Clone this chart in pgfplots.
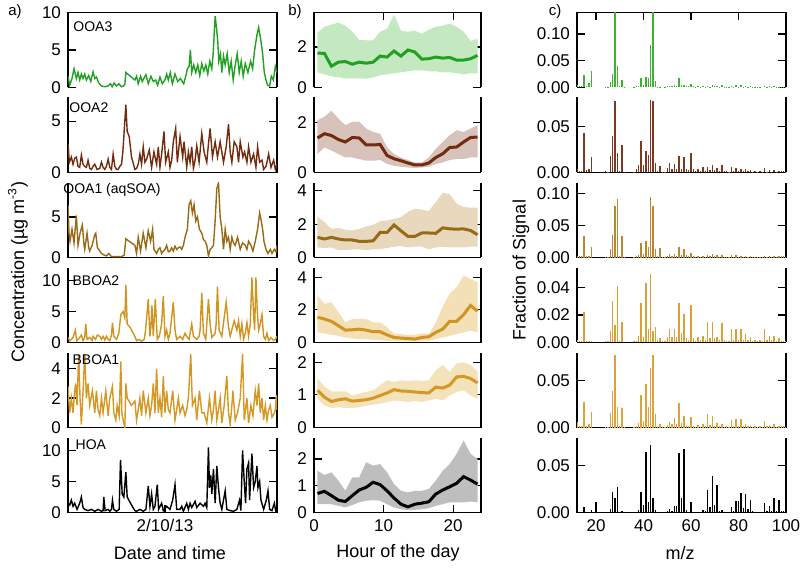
\documentclass[border=0pt]{standalone}
\usepackage{fontspec}
\setmainfont{Liberation Sans}
\usepackage{pgfplots}
\usepackage{pgfplotstable}
\pgfplotsset{compat=1.18}

\definecolor{cOOA3}{RGB}{34,160,34}
\definecolor{fOOA3}{RGB}{196,232,192}
\definecolor{cOOA2}{RGB}{112,44,12}
\definecolor{fOOA2}{RGB}{216,194,188}
\definecolor{cOOA1}{RGB}{152,106,22}
\definecolor{fOOA1}{RGB}{232,216,190}
\definecolor{cBB2}{RGB}{208,148,32}
\definecolor{fBB2}{RGB}{244,224,182}
\definecolor{cBB1}{RGB}{212,152,36}
\definecolor{fBB1}{RGB}{244,226,186}
\definecolor{fHOA}{RGB}{190,190,190}
\definecolor{sOOA3}{RGB}{60,180,50}
\definecolor{sOOA2}{RGB}{122,58,32}
\definecolor{sOOA1}{RGB}{184,136,48}
\definecolor{sBB2}{RGB}{218,162,52}
\definecolor{sBB1}{RGB}{220,164,56}

\tikzset{nm/.style={anchor=north west, inner sep=0pt, font=\fontsize{7}{8}\selectfont}}

\pgfplotsset{
  pan/.style={scale only axis, height=37.5pt, anchor=north west,
    axis y line*=box, ytick pos=both, yticklabel pos=left,
    tick align=inside, major tick length=4pt,
    axis line style={line width=0.6pt,-},
    every tick/.style={black,line width=0.6pt},
    tick label style={font=\fontsize{8.5}{10}\selectfont},
    /pgf/number format/assume math mode=true},
  ca/.style={pan, width=104.5pt, xmin=0, xmax=625, clip mode=individual},
  cb/.style={pan, width=83.5pt, xmin=0, xmax=24},
  cc/.style={pan, width=104.5pt, xmin=12, xmax=100, scaled y ticks=false,
    yticklabel style={/pgf/number format/fixed, /pgf/number format/fixed zerofill, /pgf/number format/precision=2}},
  rtop/.style={axis x line*=top, xtick pos=right, xticklabels={}},
  rmid/.style={axis x line*=none, xtick=\empty},
  rbot/.style={axis x line*=bottom, xtick pos=left},
}

% diurnal profiles: hour, median, lower, upper
\pgfplotstableread{
h med lo hi
0.5 1.70 0.75 2.70
1.5 1.68 0.65 3.00
2.5 1.05 0.55 3.10
3.5 1.25 0.50 3.20
4.5 1.28 0.45 3.05
5.5 1.15 0.45 2.75
6.5 1.25 0.45 2.35
7.5 1.20 0.43 2.33
8.5 1.25 0.50 2.33
9.5 1.55 0.60 2.75
10.5 1.50 0.65 2.90
11.5 1.80 0.70 3.60
12.5 1.55 0.75 2.80
13.5 1.85 0.80 2.75
14.5 1.75 0.85 2.80
15.5 1.40 0.85 2.65
16.5 1.42 0.80 2.85
17.5 1.50 0.80 3.00
18.5 1.45 0.75 3.05
19.5 1.48 0.75 3.15
20.5 1.35 0.70 3.00
21.5 1.35 0.65 2.75
22.5 1.42 0.70 2.30
23.5 1.58 0.70 2.40
}\dOOAiii
\pgfplotstableread{
h med lo hi
0.5 1.38 0.74 2.09
1.5 1.55 1.00 2.23
2.5 1.48 0.88 2.47
3.5 1.32 0.74 2.16
4.5 1.22 0.60 1.89
5.5 1.40 0.60 2.03
6.5 1.38 0.54 2.03
7.5 1.10 0.47 1.76
8.5 1.10 0.47 1.62
9.5 1.12 0.50 1.55
10.5 0.68 0.34 1.01
11.5 0.55 0.27 0.74
12.5 0.47 0.23 0.60
13.5 0.38 0.20 0.50
14.5 0.30 0.18 0.40
15.5 0.30 0.20 0.40
16.5 0.38 0.23 0.60
17.5 0.60 0.34 0.95
18.5 0.75 0.40 1.22
19.5 1.00 0.50 1.49
20.5 1.02 0.54 1.69
21.5 1.22 0.54 1.62
22.5 1.40 0.60 1.76
23.5 1.42 0.60 1.89
}\dOOAii
\pgfplotstableread{
h med lo hi
0.5 1.21 0.60 2.46
1.5 1.11 0.57 2.12
2.5 1.21 0.60 1.72
3.5 1.11 0.44 1.78
4.5 1.05 0.44 1.66
5.5 1.05 0.48 1.62
6.5 0.97 0.48 1.72
7.5 0.97 0.44 1.86
8.5 1.00 0.48 1.96
9.5 1.50 0.50 2.18
10.5 1.50 0.57 2.22
11.5 1.95 0.65 2.32
12.5 1.60 0.69 2.42
13.5 1.27 0.60 2.73
14.5 1.27 0.65 2.93
15.5 1.47 0.65 2.87
16.5 1.47 0.50 2.79
17.5 1.45 0.60 3.33
18.5 1.78 0.65 3.88
19.5 1.72 0.60 3.80
20.5 1.70 0.60 3.23
21.5 1.72 0.60 3.03
22.5 1.62 0.65 2.99
23.5 1.37 0.65 2.99
}\dOOAi
\pgfplotstableread{
h med lo hi
0.5 1.55 0.62 2.89
1.5 1.44 0.56 2.37
2.5 1.30 0.47 2.47
3.5 1.03 0.41 1.86
4.5 0.76 0.31 1.24
5.5 0.78 0.25 1.44
6.5 0.82 0.21 1.44
7.5 0.76 0.21 1.44
8.5 0.66 0.16 1.24
9.5 0.66 0.14 1.24
10.5 0.47 0.10 0.93
11.5 0.31 0.10 0.56
12.5 0.27 0.10 0.52
13.5 0.25 0.08 0.47
14.5 0.21 0.06 0.47
15.5 0.31 0.10 0.56
16.5 0.35 0.10 0.52
17.5 0.62 0.21 1.24
18.5 0.82 0.31 2.20
19.5 1.30 0.41 3.00
20.5 1.30 0.52 3.40
21.5 1.71 0.62 4.10
22.5 2.27 0.72 3.90
23.5 1.92 0.62 3.70
}\dBBii
\pgfplotstableread{
h med lo hi
0.5 1.14 0.88 1.50
1.5 0.93 0.67 1.26
2.5 0.80 0.60 1.11
3.5 0.85 0.62 1.11
4.5 0.88 0.60 1.11
5.5 0.81 0.60 0.98
6.5 0.83 0.62 1.04
7.5 0.85 0.67 1.09
8.5 0.90 0.70 1.14
9.5 0.98 0.73 1.30
10.5 1.06 0.78 1.45
11.5 1.16 0.83 1.40
12.5 1.12 0.81 1.45
13.5 1.11 0.78 1.43
14.5 1.09 0.81 1.45
15.5 1.07 0.78 1.43
16.5 1.06 0.83 1.45
17.5 1.24 0.88 1.76
18.5 1.21 0.83 1.92
19.5 1.30 0.98 1.71
20.5 1.55 1.09 1.97
21.5 1.57 1.14 1.99
22.5 1.50 0.98 1.92
23.5 1.37 0.88 1.71
}\dBBi
\pgfplotstableread{
h med lo hi
0.5 0.71 0.31 1.56
1.5 0.79 0.31 1.40
2.5 0.63 0.31 1.50
3.5 0.46 0.25 1.19
4.5 0.41 0.19 0.81
5.5 0.63 0.28 1.31
6.5 0.84 0.38 1.31
7.5 0.94 0.44 1.88
8.5 1.13 0.46 1.75
9.5 1.04 0.44 1.81
10.5 0.81 0.31 1.50
11.5 0.54 0.19 1.06
12.5 0.31 0.12 0.81
13.5 0.21 0.09 0.75
14.5 0.31 0.10 0.81
15.5 0.35 0.12 0.81
16.5 0.40 0.16 0.88
17.5 0.69 0.25 1.19
18.5 0.84 0.31 1.56
19.5 0.96 0.38 1.81
20.5 1.09 0.38 2.19
21.5 1.34 0.38 2.69
22.5 1.21 0.41 2.19
23.5 1.06 0.38 2.00
}\dHOA

% mass spectra (fraction of signal)
\pgfplotstableread{
mz ooa3 ooa2 ooa1 bb2 bb1 hoa
12 0.005 0.004 0.003 0.002 0.006 0.001
13 0.002 0.002 0.002 0.001 0.002 0.001
14 0.002 0.002 0.002 0.001 0.002 0.001
15 0.023 0.043 0.034 0.022 0.027 0.006
16 0.003 0.003 0.002 0.001 0.002 0.000
17 0.008 0.004 0.003 0.001 0.004 0.001
18 0.031 0.017 0.017 0.001 0.017 0.003
20 0.000 0.000 0.000 0.000 0.000 0.011
24 0.001 0.002 0.001 0.001 0.001 0.000
25 0.001 0.001 0.001 0.001 0.001 0.001
26 0.010 0.018 0.013 0.008 0.016 0.004
27 0.025 0.040 0.035 0.030 0.039 0.022
28 0.200 0.078 0.081 0.013 0.077 0.015
29 0.040 0.021 0.091 0.041 0.022 0.027
30 0.002 0.002 0.002 0.001 0.002 0.001
31 0.014 0.030 0.033 0.015 0.021 0.002
32 0.001 0.001 0.001 0.000 0.001 0.000
36 0.001 0.001 0.001 0.001 0.001 0.001
37 0.002 0.004 0.002 0.001 0.002 0.001
38 0.003 0.008 0.004 0.005 0.005 0.003
39 0.017 0.034 0.022 0.029 0.035 0.022
40 0.005 0.008 0.005 0.004 0.007 0.004
41 0.020 0.024 0.026 0.043 0.046 0.065
42 0.018 0.019 0.016 0.010 0.022 0.011
43 0.080 0.079 0.095 0.050 0.063 0.072
44 0.220 0.078 0.080 0.0085 0.077 0.015
45 0.012 0.010 0.013 0.011 0.014 0.003
46 0.001 0.002 0.002 0.002 0.002 0.001
47 0.001 0.007 0.015 0.003 0.004 0.001
48 0.000 0.001 0.001 0.001 0.001 0.000
49 0.001 0.001 0.001 0.001 0.001 0.001
50 0.002 0.005 0.003 0.004 0.003 0.002
51 0.003 0.010 0.005 0.010 0.006 0.004
52 0.002 0.004 0.003 0.004 0.004 0.002
53 0.004 0.009 0.006 0.0095 0.010 0.007
54 0.002 0.004 0.003 0.004 0.004 0.007
55 0.017 0.018 0.016 0.029 0.026 0.064
56 0.004 0.004 0.004 0.007 0.005 0.015
57 0.005 0.017 0.013 0.021 0.0125 0.068
58 0.002 0.004 0.004 0.003 0.003 0.003
59 0.002 0.003 0.002 0.002 0.002 0.001
60 0.006 0.021 0.007 0.027 0.011 0.011
61 0.002 0.004 0.002 0.003 0.002 0.001
62 0.001 0.002 0.001 0.001 0.001 0.001
63 0.002 0.004 0.002 0.004 0.003 0.001
64 0.001 0.002 0.001 0.002 0.001 0.001
65 0.002 0.006 0.003 0.005 0.004 0.003
66 0.001 0.002 0.001 0.002 0.002 0.002
67 0.003 0.006 0.004 0.015 0.014 0.024
68 0.001 0.003 0.002 0.003 0.003 0.006
69 0.005 0.008 0.005 0.015 0.0125 0.039
70 0.002 0.003 0.002 0.003 0.002 0.008
71 0.003 0.005 0.004 0.004 0.005 0.029
72 0.001 0.002 0.001 0.002 0.002 0.002
73 0.004 0.008 0.004 0.014 0.004 0.003
74 0.001 0.002 0.001 0.002 0.001 0.001
75 0.001 0.002 0.001 0.001 0.002 0.001
76 0.001 0.001 0.001 0.001 0.001 0.001
77 0.003 0.006 0.004 0.0095 0.008 0.006
78 0.001 0.002 0.001 0.002 0.002 0.002
79 0.004 0.005 0.004 0.0095 0.009 0.012
80 0.001 0.002 0.001 0.002 0.002 0.012
81 0.004 0.004 0.003 0.0095 0.009 0.021
82 0.001 0.002 0.001 0.002 0.002 0.005
83 0.003 0.004 0.002 0.006 0.004 0.020
84 0.001 0.002 0.001 0.002 0.002 0.004
85 0.002 0.003 0.002 0.004 0.003 0.013
86 0.001 0.001 0.001 0.001 0.001 0.002
87 0.001 0.002 0.001 0.002 0.002 0.001
88 0.001 0.001 0.001 0.001 0.001 0.001
89 0.001 0.002 0.001 0.002 0.002 0.001
90 0.000 0.001 0.001 0.001 0.001 0.001
91 0.003 0.005 0.003 0.010 0.007 0.010
92 0.001 0.001 0.001 0.002 0.002 0.002
93 0.002 0.003 0.002 0.005 0.003 0.007
94 0.001 0.001 0.001 0.002 0.001 0.002
95 0.002 0.003 0.002 0.005 0.004 0.015
96 0.001 0.001 0.001 0.001 0.001 0.002
97 0.001 0.002 0.002 0.003 0.002 0.013
98 0.001 0.002 0.002 0.001 0.002 0.002
99 0.001 0.002 0.002 0.001 0.002 0.002
100 0.001 0.001 0.001 0.001 0.001 0.001
}\spec

% band between lo and hi (stacked), then the median line
\newcommand{\diurnal}[3]{%
  \addplot[draw=none, forget plot, stack plots=y] table[x=h,y=lo]{#1};
  \addplot[fill=#3, draw=none, stack plots=y] table[x=h,y expr=\thisrow{hi}-\thisrow{lo}]{#1} \closedcycle;
  \addplot[#2, line width=1.5pt, stack plots=false] table[x=h,y=med]{#1};}

\begin{document}
\begin{tikzpicture}
\useasboundingbox (0,0) rectangle (401pt,-288.5pt);

% ---------------- column a: time series ----------------
\begin{axis}[ca, rtop, xtick=\empty, at={(34pt,-6.25pt)}, ymin=0, ymax=10, ytick={0,5,10}]
\addplot[cOOA3, line width=0.7pt] coordinates {(0,1.5)(5,0.3)(12,1.2)(18,2.5)(25,1.2)(30,2.0)(35,1.0)(40,1.8)(45,1.2)(50,1.8)(55,1.0)(62,1.6)(68,0.8)(75,2.1)(80,1.2)(85,1.4)(92,0.6)(100,0.2)(110,0.1)(120,0.2)(127,0.5)(132,0.1)(138,0.6)(145,0.2)(152,0.5)(160,0.1)(166,0.2)(170,0.4)(173,2.0)(200,1.0)(205,1.5)(210,0.5)(217,1.5)(222,0.8)(228,1.3)(233,1.7)(240,0.5)(248,1.5)(255,0.8)(262,1.0)(268,0.3)(275,1.4)(282,0.5)(290,1.0)(295,1.8)(300,1.0)(306,2.0)(312,0.5)(320,1.8)(328,0.8)(336,1.2)(346,0.5)(352,1.5)(357,2.5)(362,2.8)(366,5.0)(370,2.0)(376,3.0)(382,2.0)(388,3.0)(394,1.6)(400,3.2)(406,2.2)(412,3.0)(418,1.8)(424,3.5)(430,2.5)(434,4.5)(440,9.5)(444,8.0)(448,6.0)(451,3.5)(456,4.5)(460,2.0)(465,4.2)(470,3.0)(476,4.5)(482,2.0)(488,3.5)(494,1.0)(500,3.0)(506,4.5)(512,2.0)(518,3.5)(524,1.5)(530,3.2)(538,2.0)(546,3.5)(552,2.5)(558,5.0)(565,7.0)(570,8.0)(576,6.5)(582,4.5)(587,2.0)(592,1.0)(597,0.3)(603,0.2)(608,1.5)(614,1.0)(620,2.8)(625,2.0)};
\node[nm] at (rel axis cs:0.024,0.88) {OOA3};
\end{axis}

\begin{axis}[ca, rmid, at={(34pt,-48.75pt)}, ymin=0, ymax=7.3, ytick={0,5}]
\addplot[cOOA2, line width=0.7pt] coordinates {(0,2.8)(4,1.0)(10,1.5)(15,0.8)(20,1.4)(25,1.5)(30,0.6)(35,0.5)(40,1.7)(45,0.8)(50,0.6)(55,0.5)(60,1.2)(65,0.4)(70,0.3)(75,0.6)(80,0.8)(87,0.3)(95,0.4)(100,1.0)(105,0.5)(110,0.3)(115,0.6)(120,1.3)(125,0.5)(130,0.3)(135,1.8)(140,0.6)(145,0.3)(150,0.3)(155,0.6)(160,0.8)(164,2.0)(167,3.5)(173,6.6)(177,4.0)(183,3.5)(190,1.5)(200,0.3)(205,0.4)(210,0.8)(215,1.8)(220,0.8)(225,2.5)(230,1.0)(235,1.3)(243,2.2)(250,0.5)(257,2.0)(265,0.8)(270,2.5)(275,0.5)(280,1.8)(287,4.0)(292,1.0)(300,2.0)(305,0.5)(310,1.2)(315,3.0)(322,4.3)(327,1.0)(335,3.5)(343,1.5)(347,3.0)(355,0.5)(360,2.0)(365,1.0)(370,2.5)(375,0.4)(380,1.2)(385,2.6)(392,1.0)(400,3.8)(407,2.0)(415,1.0)(420,2.8)(425,4.3)(432,1.5)(440,3.0)(447,1.5)(455,3.0)(460,2.0)(465,1.0)(473,2.5)(480,4.7)(485,2.0)(490,1.0)(497,3.0)(505,2.5)(510,1.0)(515,3.0)(523,1.5)(528,2.0)(535,1.0)(540,2.5)(547,1.0)(555,1.8)(562,0.5)(567,2.5)(573,1.0)(580,1.2)(585,0.3)(592,0.6)(595,1.0)(600,1.8)(607,0.5)(615,1.2)(620,0.3)(625,0.8)};
\node[nm] at (rel axis cs:0.005,0.93) {OOA2};
\end{axis}

\begin{axis}[ca, rmid, at={(34pt,-91.25pt)}, ymin=0, ymax=9.25, ytick={0,5}]
\addplot[cOOA1, line width=0.7pt] coordinates {(0,6.5)(3,3.0)(6,2.0)(12,3.5)(18,1.8)(25,5.2)(30,1.5)(36,3.0)(43,4.0)(48,1.5)(50,1.0)(57,3.0)(62,1.2)(65,0.8)(72,1.5)(80,2.8)(83,3.0)(88,1.2)(92,1.0)(100,0.5)(108,0.3)(115,0.2)(122,0.5)(130,0.1)(145,0.1)(160,0.1)(168,0.3)(173,2.3)(200,1.5)(205,0.5)(210,2.5)(217,0.8)(225,3.0)(233,1.2)(240,3.3)(247,2.0)(253,3.5)(257,1.0)(265,0.5)(270,1.0)(275,1.2)(280,0.5)(285,0.8)(290,1.0)(295,1.5)(300,0.7)(305,0.8)(310,1.2)(315,0.8)(320,1.4)(325,1.0)(330,1.2)(335,1.3)(340,1.0)(345,1.5)(350,2.5)(357,3.5)(362,6.5)(367,7.0)(372,5.5)(377,6.5)(382,4.5)(387,5.0)(393,3.5)(400,3.0)(405,2.2)(410,2.0)(415,1.5)(420,0.2)(425,1.0)(430,1.2)(435,1.5)(440,4.5)(445,8.5)(450,9.2)(455,5.0)(460,3.5)(465,1.0)(470,3.5)(475,2.0)(480,2.5)(485,1.0)(490,2.5)(495,1.8)(500,1.5)(507,2.5)(515,1.0)(522,1.8)(530,1.5)(535,1.0)(540,2.0)(547,1.5)(553,0.8)(560,2.0)(567,3.5)(573,5.5)(578,4.5)(582,3.5)(586,2.0)(592,1.0)(598,0.5)(605,1.0)(610,0.5)(617,1.0)(622,0.7)(625,1.5)};
\node[nm] at (rel axis cs:-0.024,0.99) {OOA1 (aqSOA)};
\end{axis}

\begin{axis}[ca, rmid, at={(34pt,-133.75pt)}, ymin=0, ymax=12.1, ytick={0,5,10}]
\addplot[cBB2, line width=0.7pt] coordinates {(0,0.8)(5,0.3)(10,0.5)(15,0.8)(22,2.0)(26,0.3)(32,0.6)(40,1.2)(45,0.3)(50,0.8)(53,3.0)(57,0.5)(65,0.8)(72,0.3)(75,1.0)(82,0.5)(88,1.2)(95,1.0)(100,0.5)(105,1.0)(110,0.4)(115,1.0)(120,0.5)(125,0.3)(130,1.2)(133,3.2)(137,1.0)(145,0.5)(152,1.5)(158,4.5)(165,5.0)(170,4.0)(173,9.3)(177,3.0)(185,2.5)(200,1.0)(205,0.3)(212,0.5)(220,0.2)(228,0.5)(232,2.0)(240,7.0)(245,1.0)(248,2.5)(251,6.0)(255,1.0)(261,7.0)(267,0.5)(273,1.0)(280,3.0)(285,7.5)(290,1.0)(295,2.0)(300,0.5)(305,1.5)(310,4.0)(315,6.5)(320,2.0)(325,0.5)(335,1.0)(343,0.5)(350,1.5)(355,1.0)(362,0.5)(370,3.0)(375,1.0)(385,0.5)(392,1.0)(395,2.0)(400,8.0)(405,1.5)(412,0.5)(420,7.0)(425,3.0)(430,0.8)(440,1.5)(443,3.0)(447,9.0)(452,2.0)(460,1.0)(467,4.0)(473,6.5)(480,2.5)(485,1.0)(492,2.5)(497,3.5)(505,2.0)(510,3.5)(515,1.0)(520,3.0)(525,0.5)(530,1.5)(535,3.2)(540,1.0)(545,3.0)(550,10.5)(555,4.5)(558,2.0)(562,10.5)(566,5.0)(570,2.0)(575,3.0)(580,4.5)(585,1.0)(590,0.5)(595,1.5)(600,0.3)(607,0.8)(615,0.3)(620,0.5)(625,1.0)};
\node[nm] at (rel axis cs:0.02,0.89) {BBOA2};
\end{axis}

\begin{axis}[ca, rmid, at={(34pt,-176.25pt)}, ymin=0, ymax=5.1, ytick={0,2,4}]
\addplot[cBB1, line width=0.7pt] coordinates {(0,2.8)(5,1.0)(10,2.0)(15,1.0)(20,2.5)(23,3.0)(27,1.5)(32,5.0)(36,2.0)(40,0.2)(45,2.5)(50,5.0)(55,2.0)(60,3.0)(65,1.5)(73,2.5)(80,1.0)(85,2.5)(90,1.2)(95,0.8)(100,2.0)(105,1.0)(113,2.5)(120,0.8)(125,2.0)(133,2.8)(137,1.0)(143,0.5)(147,1.5)(153,0.8)(158,4.5)(161,1.0)(165,0.5)(170,0.0)(173,3.0)(177,2.0)(190,1.5)(200,1.8)(205,0.5)(210,1.2)(215,2.0)(220,0.8)(225,2.5)(233,1.0)(240,2.0)(245,0.8)(250,1.5)(255,3.0)(260,1.0)(265,4.0)(270,1.0)(275,2.0)(280,0.7)(285,3.5)(290,1.0)(295,2.5)(300,1.2)(305,1.0)(313,2.5)(320,0.5)(325,1.2)(330,2.0)(335,1.0)(343,1.5)(350,0.8)(355,1.2)(360,2.0)(367,5.0)(372,1.5)(380,2.0)(385,0.5)(393,2.5)(400,1.0)(407,1.0)(415,0.3)(423,2.0)(430,0.5)(435,1.2)(440,2.5)(445,0.5)(450,1.2)(455,2.0)(460,0.3)(467,1.5)(475,3.5)(480,1.0)(485,0.2)(490,1.5)(493,2.5)(500,0.5)(507,1.0)(515,2.0)(522,5.0)(527,0.5)(535,2.0)(540,0.3)(547,1.5)(553,0.8)(560,2.5)(565,1.5)(570,3.0)(575,1.0)(580,2.0)(585,0.5)(590,1.5)(595,0.5)(600,1.2)(605,1.5)(610,0.7)(617,1.0)(620,1.2)(623,2.2)(625,1.2)};
\node[nm] at (rel axis cs:0.02,0.98) {BBOA1};
\end{axis}

\begin{axis}[ca, rbot, at={(34pt,-218.75pt)}, ymin=0, ymax=12.1, ytick={0,5,10}, xtick={290}, xticklabels={2/10/13}]
\addplot[black, line width=0.7pt] coordinates {(0,1.5)(5,1.2)(10,2.0)(15,1.0)(20,1.5)(27,0.5)(35,1.5)(40,2.5)(45,0.8)(50,0.5)(60,0.3)(70,0.5)(80,0.2)(90,0.5)(100,0.2)(105,0.3)(107,2.5)(111,0.3)(120,0.5)(125,0.2)(130,0.5)(133,2.0)(137,0.5)(145,0.2)(153,0.5)(157,8.5)(162,3.0)(167,2.5)(173,6.5)(177,2.5)(190,1.2)(200,0.3)(205,0.2)(215,0.5)(225,0.2)(233,0.5)(240,4.3)(245,1.0)(250,3.0)(255,0.5)(260,1.0)(267,4.5)(271,0.5)(280,1.5)(285,0.3)(295,1.0)(305,0.5)(313,2.0)(320,4.5)(325,0.5)(335,0.5)(340,1.0)(345,0.2)(355,1.5)(360,0.5)(365,1.5)(370,0.8)(380,1.8)(385,0.8)(395,1.5)(405,1.0)(410,1.5)(415,0.8)(420,10.5)(423,4.0)(427,6.0)(430,3.0)(435,7.0)(440,1.5)(445,7.5)(450,4.0)(455,1.5)(460,0.5)(470,3.5)(475,0.5)(485,0.3)(495,0.2)(505,0.5)(513,2.0)(517,0.3)(522,10.0)(527,5.0)(531,1.5)(535,7.0)(540,8.0)(543,2.0)(550,9.5)(555,4.0)(560,5.0)(565,7.5)(568,4.0)(573,5.0)(577,2.0)(585,0.5)(593,2.0)(598,3.5)(603,0.5)(610,0.3)(617,1.5)(621,0.3)(625,0.5)};
\node[nm] at (rel axis cs:0.035,0.98) {HOA};
\end{axis}

% ---------------- column b: diurnal ----------------
\begin{axis}[cb, rtop, xtick={10,20}, at={(157pt,-6.25pt)}, ymin=0, ymax=3.7, ytick={0,2}]
\diurnal{\dOOAiii}{cOOA3}{fOOA3}
\end{axis}
\begin{axis}[cb, rmid, at={(157pt,-48.75pt)}, ymin=0, ymax=3.0, ytick={0,2}]
\diurnal{\dOOAii}{cOOA2}{fOOA2}
\end{axis}
\begin{axis}[cb, rmid, at={(157pt,-91.25pt)}, ymin=0, ymax=4.5, ytick={0,2,4}]
\diurnal{\dOOAi}{cOOA1}{fOOA1}
\end{axis}
\begin{axis}[cb, rmid, at={(157pt,-133.75pt)}, ymin=0, ymax=4.6, ytick={0,2,4}]
\diurnal{\dBBii}{cBB2}{fBB2}
\end{axis}
\begin{axis}[cb, rmid, at={(157pt,-176.25pt)}, ymin=0, ymax=2.3, ytick={0,1,2}]
\diurnal{\dBBi}{cBB1}{fBB1}
\end{axis}
\begin{axis}[cb, rbot, at={(157pt,-218.75pt)}, ymin=0, ymax=2.8, ytick={0,1,2}, xtick={0,10,20}]
\diurnal{\dHOA}{black}{fHOA}
\end{axis}

% ---------------- column c: spectra ----------------
\begin{axis}[cc, rtop, xtick={20,40,60,80}, at={(288.5pt,-6.25pt)}, ymin=0, ymax=0.14, ytick={0,0.05,0.10}]
\addplot[ycomb, sOOA3, line width=0.7pt] table[x=mz,y=ooa3]{\spec};
\end{axis}
\begin{axis}[cc, rmid, at={(288.5pt,-48.75pt)}, ymin=0, ymax=0.082, ytick={0,0.05}]
\addplot[ycomb, sOOA2, line width=0.7pt] table[x=mz,y=ooa2]{\spec};
\end{axis}
\begin{axis}[cc, rmid, at={(288.5pt,-91.25pt)}, ymin=0, ymax=0.117, ytick={0,0.05,0.10}]
\addplot[ycomb, sOOA1, line width=0.7pt] table[x=mz,y=ooa1]{\spec};
\end{axis}
\begin{axis}[cc, rmid, at={(288.5pt,-133.75pt)}, ymin=0, ymax=0.0545, ytick={0,0.02,0.04}]
\addplot[ycomb, sBB2, line width=0.7pt] table[x=mz,y=bb2]{\spec};
\end{axis}
\begin{axis}[cc, rmid, at={(288.5pt,-176.25pt)}, ymin=0, ymax=0.08, ytick={0,0.05}]
\addplot[ycomb, sBB1, line width=0.7pt] table[x=mz,y=bb1]{\spec};
\end{axis}
\begin{axis}[cc, rbot, at={(288.5pt,-218.75pt)}, ymin=0, ymax=0.08, ytick={0,0.05}, xtick={20,40,60,80,100}]
\addplot[ycomb, black, line width=0.7pt] table[x=mz,y=hoa]{\spec};
\end{axis}

% ---------------- labels ----------------
\begin{scope}[every node/.style={font=\fontsize{7.5}{9}\selectfont}]
\node at (7.5pt,-6pt) {a)};
\node at (147.5pt,-6pt) {b)};
\node at (277.5pt,-6pt) {c)};
\end{scope}
\begin{scope}[every node/.style={font=\fontsize{9}{11}\selectfont}]
\node[rotate=90] at (9pt,-136pt) {Concentration (µg m\textsuperscript{-3})};
\node[rotate=90] at (260.5pt,-135pt) {Fraction of Signal};
\node at (85pt,-276.5pt) {Date and time};
\node at (199pt,-276.5pt) {Hour of the day};
\node at (340pt,-276.5pt) {m/z};
\end{scope}
\end{tikzpicture}
\end{document}
